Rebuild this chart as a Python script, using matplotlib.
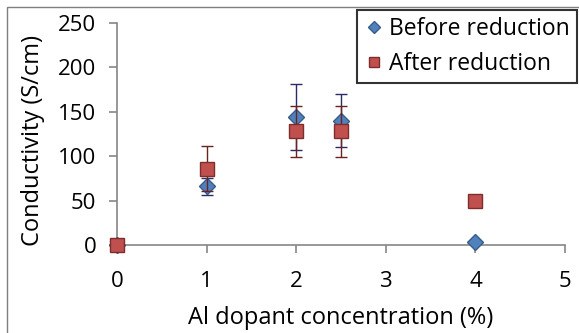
import matplotlib.pyplot as plt
from matplotlib.patches import Rectangle

# data
al_conc = [0, 1, 2, 2.5, 4]
before = [0, 66, 144, 140, 3]
before_err = [0, 10, 37, 30, 0]
after = [0, 86, 128, 128, 49]
after_err = [0, 25, 29, 29, 0]

x_ticks = [0, 1, 2, 3, 4, 5]
y_ticks = [0, 50, 100, 150, 200, 250]

plt.rcParams['font.family'] = ['Open Sans', 'DejaVu Sans']
fs_tick = 16
fs_text = 17

fig = plt.figure(figsize=(5.79, 3.33), dpi=100)
ax = fig.add_axes([117 / 579, 88 / 333, 448 / 579, 222 / 333])

# outer chart-area border (runs off the right and bottom edges)
fig.patches.append(Rectangle((7 / 579, -0.5), 1.5, 1 - 7 / 333 + 0.5,
                             transform=fig.transFigure, fill=False,
                             edgecolor='#7f7f7f', linewidth=1.0))

ax.errorbar(al_conc, before, yerr=before_err, fmt='none', ecolor='#2b2b66',
            elinewidth=1, capsize=4, capthick=1, zorder=2)
ax.plot(al_conc, before, linestyle='none', marker='D', markersize=8,
        markerfacecolor='#4f81bd', markeredgecolor='#385d8a',
        markeredgewidth=1, label='Before reduction', zorder=3)
ax.errorbar(al_conc, after, yerr=after_err, fmt='none', ecolor='#6b2222',
            elinewidth=1, capsize=4, capthick=1, zorder=4)
ax.plot(al_conc, after, linestyle='none', marker='s', markersize=9.5,
        markerfacecolor='#c0504d', markeredgecolor='#7d2d2b',
        markeredgewidth=1, label='After reduction', zorder=5)

ax.set_xlim(0, 5)
ax.set_ylim(0, 250)
ax.set_xticks(x_ticks)
ax.set_yticks(y_ticks)
ax.set_xticklabels([str(v) for v in x_ticks])
ax.set_yticklabels([str(v) for v in y_ticks])

for side in ['top', 'right']:
    ax.spines[side].set_visible(False)
for side in ['left', 'bottom']:
    ax.spines[side].set_color('#868686')
    ax.spines[side].set_linewidth(1.2)
ax.tick_params(axis='both', direction='out', length=6, width=1.2,
               color='#868686', labelsize=fs_tick, labelcolor='black')
ax.tick_params(axis='x', pad=13)
ax.tick_params(axis='y', pad=9)
for line in ax.lines:
    line.set_clip_on(False)
for coll in ax.collections:
    coll.set_clip_on(False)

ax.set_xlabel('Al dopant concentration (%)', fontsize=fs_text, va='center')
ax.xaxis.set_label_coords(0.5, -0.327)
ax.set_ylabel('Conductivity (S/cm)', fontsize=fs_text, va='center')
ax.yaxis.set_label_coords(-0.1875, 0.47)

leg = fig.legend(loc='upper left', bbox_to_anchor=(357 / 579, 1 - 10 / 333),
                 fontsize=16.5, frameon=True, fancybox=False,
                 handlelength=0.9, handletextpad=0.2, borderpad=0.3,
                 labelspacing=0.5, borderaxespad=0, markerscale=0.8)
leg.get_frame().set_edgecolor('black')
leg.get_frame().set_linewidth(1.5)

fig.savefig('out.png', dpi=100)
